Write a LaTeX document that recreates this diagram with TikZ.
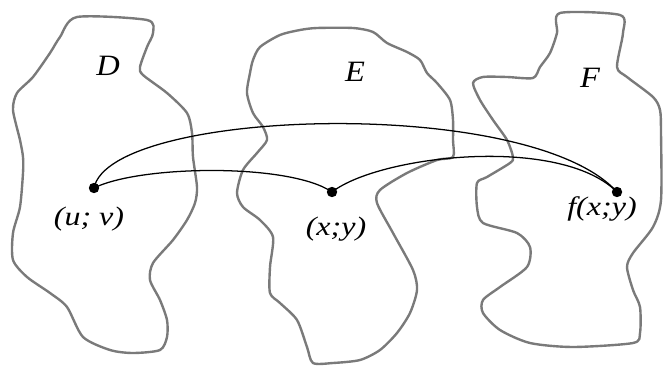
\documentclass[tikz,border=0pt]{standalone}
\usepackage{fontspec}
\setmainfont{Liberation Serif}
\usepackage{tikz}
\usetikzlibrary{arrows.meta}
\usepackage{xcolor}

\begin{document}
\begin{tikzpicture}[x=0.025cm,y=-0.025cm,line cap=round,line join=round,
  region/.style={draw=black!52,line width=1.7pt},
  curve/.style={draw=black,line width=0.9pt},
  pt/.style={circle,fill=black,inner sep=0pt,minimum size=2.6mm},
  setname/.style={font=\itshape\fontsize{21}{25}\selectfont,xscale=1.1},
  ptlabel/.style={font=\itshape\fontsize{19}{22}\selectfont,xscale=1.2}]
\useasboundingbox (0,0) rectangle (663,366);
% region D
\draw[region] plot[smooth cycle,tension=0.45] coordinates {(77,17) (147,20) (153,33) (147,47) (140,67) (143,75) (167,93) (187,113) (192,133) (193,157) (197,187) (195,203) (187,220) (173,240) (153,263) (150,280) (160,300) (167,320) (167,337) (160,350) (133,353) (110,350) (83,337) (67,307) (50,293) (27,277) (13,260) (13,233) (20,207) (23,173) (23,157) (20,140) (13,110) (17,93) (33,77) (50,53) (60,37)};
% region E
\draw[region] plot[smooth cycle,tension=0.45] coordinates {(300,30) (317,28) (353,28) (373,32) (387,43) (407,52) (420,60) (427,73) (437,83) (450,100) (453,120) (453,140) (453,157) (437,160) (407,173) (380,190) (377,203) (393,233) (413,270) (417,290) (410,313) (397,333) (380,350) (360,360) (333,363) (313,363) (307,347) (297,320) (280,303) (270,293) (270,267) (273,237) (260,220) (243,207) (237,193) (243,170) (257,153) (267,140) (263,127) (253,113) (247,93) (250,73) (253,60) (260,47) (280,35)};
% region F
\draw[region] plot[smooth cycle,tension=0.45] coordinates {(560,13) (620,15) (623,33) (617,67) (627,77) (653,97) (660,110) (661,133) (661,200) (653,227) (633,253) (627,267) (633,290) (640,307) (640,333) (633,343) (573,347) (530,343) (500,330) (483,313) (483,300) (500,287) (527,267) (530,247) (517,233) (483,223) (477,207) (477,183) (487,177) (510,163) (513,157) (507,140) (493,120) (480,100) (473,83) (483,77) (507,77) (533,78) (540,67) (550,53) (557,33)};
\node[setname] (nameD) at (108,66) {D};
\node[setname] (nameE) at (355,72) {E};
\node[setname] (nameF) at (590,78) {F};
% points
\node[pt] (uv) at (94,188) {};
\node[pt] (xy) at (332,192) {};
\node[pt] (fxy) at (617,192) {};
\node[ptlabel] (uvlabel) at (89,219) {(u; v)};
\node[ptlabel] (xylabel) at (336,229) {(x;y)};
\node[ptlabel] (fxylabel) at (602,209) {f(x;y)};
% maps
\draw[curve] (uv.center) .. controls (140,165) and (290,163) .. (xy.center);
\draw[curve] (xy.center) .. controls (380,155) and (560,135) .. (fxy.center);
\draw[curve] (uv.center) .. controls (110,108) and (530,95) .. (fxy.center);
\end{tikzpicture}
\end{document}
